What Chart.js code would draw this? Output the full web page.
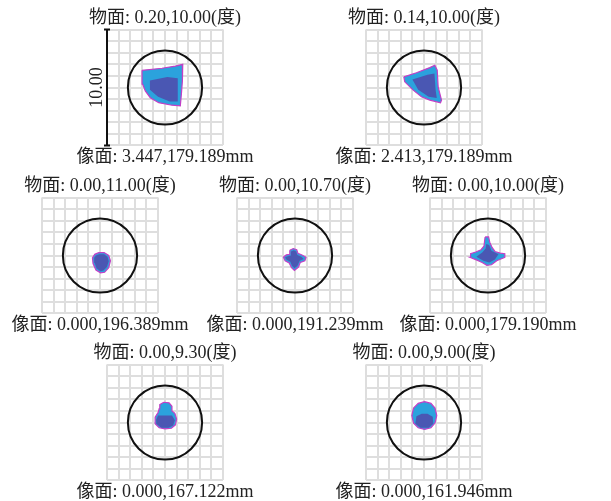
<!DOCTYPE html>
<html>
<head>
<meta charset="utf-8">
<script src="https://cdn.jsdelivr.net/npm/chart.js"></script>
<style>
  body { margin: 0; background: #fff; width: 611px; height: 501px; position: relative; overflow: hidden; }
  .spot { position: absolute; width: 210px; height: 165px; }
</style>
</head>
<body>
<div class="spot" style="left:60px;top:5px"><canvas id="c0"></canvas></div>
<div class="spot" style="left:319px;top:5px"><canvas id="c1"></canvas></div>
<div class="spot" style="left:-5px;top:173px"><canvas id="c2"></canvas></div>
<div class="spot" style="left:190px;top:173px"><canvas id="c3"></canvas></div>
<div class="spot" style="left:383px;top:173px"><canvas id="c4"></canvas></div>
<div class="spot" style="left:60px;top:340px"><canvas id="c5"></canvas></div>
<div class="spot" style="left:319px;top:340px"><canvas id="c6"></canvas></div>
<script>
// field angles (object) and image positions, one per spot diagram
const objectFields = ['0.20,10.00', '0.14,10.00', '0.00,11.00', '0.00,10.70', '0.00,10.00', '0.00,9.30', '0.00,9.00'];
const imagePositions = ['3.447,179.189', '2.413,179.189', '0.000,196.389', '0.000,191.239', '0.000,179.190', '0.000,167.122', '0.000,161.946'];
const gridMin = -5;
const gridMax = 5;
const airyRadius = 3.2;
const scaleBarLength = 10.00;

// spot outlines [x, y], outer ray envelope and dense core
const spot1Outer = [[-1.98,1.48],[-0.26,1.66],[0.89,1.85],[1.53,2.0],[1.53,1.42],[1.47,0.56],[1.41,-0.59],[1.32,-1.59],[0.6,-1.53],[-0.54,-1.31],[-1.27,-0.88],[-1.7,-0.3],[-1.92,0.28]];
const spot1Core = [[-1.3,0.6],[0.2,0.9],[1.1,0.8],[1.1,-1.2],[0.4,-1.2],[-0.6,-0.8],[-1.3,-0.2]];
const spot2Outer = [[-1.74,0.92],[-0.65,1.27],[0.5,1.72],[0.93,1.92],[1.14,1.49],[1.22,0.06],[1.51,-1.09],[1.42,-1.32],[0.5,-1.09],[-0.22,-0.8],[-0.93,-0.23],[-1.66,0.49]];
const spot2Core = [[-1.0,0.7],[0.3,1.1],[0.9,1.2],[1.0,-0.2],[1.1,-0.9],[0.4,-0.8],[-0.5,-0.2]];
const spot3Outer = [[-0.1,0.25],[0.35,0.25],[0.75,0.0],[0.9,-0.45],[0.75,-1.05],[0.4,-1.45],[0.05,-1.5],[-0.35,-1.25],[-0.6,-0.7],[-0.65,-0.2],[-0.45,0.1]];
const spot3Core = [[-0.05,0.1],[0.35,0.1],[0.65,-0.1],[0.75,-0.5],[0.6,-1.0],[0.3,-1.3],[0.05,-1.35],[-0.3,-1.1],[-0.45,-0.65],[-0.5,-0.2],[-0.35,0.0]];
const spot4Outer = [[-0.45,0.45],[-0.15,0.6],[0.15,0.5],[0.25,0.2],[0.6,0.05],[0.95,-0.15],[0.85,-0.45],[0.45,-0.6],[0.3,-1.0],[-0.05,-1.3],[-0.3,-1.05],[-0.5,-0.65],[-0.85,-0.45],[-1.0,-0.15],[-0.75,0.05],[-0.45,0.1]];
const spot4Core = [[-0.35,0.35],[-0.1,0.45],[0.1,0.35],[0.2,0.05],[0.55,-0.1],[0.75,-0.3],[0.4,-0.45],[0.2,-0.9],[-0.05,-1.1],[-0.25,-0.9],[-0.4,-0.55],[-0.75,-0.35],[-0.85,-0.15],[-0.55,-0.05],[-0.35,0.0]];
const spot5Outer = [[-0.25,1.6],[0.05,1.6],[0.15,1.15],[0.35,0.7],[0.6,0.35],[1.05,0.2],[1.45,0.15],[1.45,-0.15],[1.0,-0.35],[0.75,-0.45],[0.3,-0.8],[-0.1,-0.85],[-0.5,-0.6],[-0.95,-0.4],[-1.55,-0.15],[-1.5,0.15],[-1.05,0.3],[-0.6,0.5],[-0.35,0.8],[-0.3,1.2]];
const spot5Core = [[-0.15,1.0],[0.1,0.9],[0.3,0.4],[0.9,0.1],[0.6,-0.35],[0.1,-0.6],[-0.4,-0.45],[-1.0,-0.1],[-0.5,0.25],[-0.2,0.6]];
const spot6Outer = [[-0.1,1.75],[0.35,1.7],[0.6,1.4],[0.6,1.0],[0.85,0.8],[1.0,0.3],[0.9,-0.2],[0.55,-0.5],[0.0,-0.55],[-0.5,-0.45],[-0.85,-0.1],[-0.85,0.45],[-0.6,0.85],[-0.5,1.2],[-0.45,1.55]];
const spot6Core = [[-0.6,0.6],[0.6,0.6],[0.85,0.2],[0.7,-0.25],[0.3,-0.45],[-0.3,-0.45],[-0.7,-0.15],[-0.75,0.25]];
const spot7Outer = [[0.05,1.8],[0.6,1.65],[0.95,1.25],[1.1,0.6],[0.95,-0.05],[0.6,-0.45],[0.05,-0.6],[-0.5,-0.45],[-0.9,-0.05],[-1.05,0.6],[-0.9,1.25],[-0.5,1.65]];
const spot7Core = [[-0.65,0.55],[-0.2,0.75],[0.3,0.75],[0.75,0.5],[0.8,-0.1],[0.4,-0.45],[-0.3,-0.45],[-0.75,-0.1]];

const spotsOuter = [spot1Outer, spot2Outer, spot3Outer, spot4Outer, spot5Outer, spot6Outer, spot7Outer];
const spotsCore = [spot1Core, spot2Core, spot3Core, spot4Core, spot5Core, spot6Core, spot7Core];

const FONT = '"Liberation Serif", "Noto Sans CJK SC", serif';
const SIDE = 47; // room beside the square grid for the labels

function toPoints(arr) {
  const pts = arr.map(p => ({ x: p[0], y: p[1] }));
  pts.push({ x: arr[0][0], y: arr[0][1] }); // close polygon
  return pts;
}

// airy circle + scale bar, placed through the chart scales
const overlay = {
  id: 'overlay',
  afterDatasetsDraw(chart, args, opts) {
    const { ctx, scales: { x, y } } = chart;
    const cx = x.getPixelForValue(0);
    const cy = y.getPixelForValue(0);
    const r = x.getPixelForValue(opts.radius) - cx;
    ctx.save();
    ctx.strokeStyle = '#111';
    ctx.lineWidth = 2;
    ctx.beginPath();
    ctx.arc(cx, cy, r, 0, Math.PI * 2);
    ctx.stroke();

    if (opts.scaleBar) {
      const bx = x.getPixelForValue(gridMin);
      const y0 = y.getPixelForValue(-opts.scaleBar / 2);
      const y1 = y.getPixelForValue(opts.scaleBar / 2);
      ctx.beginPath();
      ctx.moveTo(bx, y0); ctx.lineTo(bx, y1);
      ctx.moveTo(bx - 3, y0); ctx.lineTo(bx + 3, y0);
      ctx.moveTo(bx - 3, y1); ctx.lineTo(bx + 3, y1);
      ctx.stroke();
      ctx.translate(bx - 10, (y0 + y1) / 2);
      ctx.rotate(-Math.PI / 2);
      ctx.fillStyle = '#222';
      ctx.font = '18px ' + FONT;
      ctx.textAlign = 'center';
      ctx.textBaseline = 'middle';
      ctx.fillText(opts.scaleBar.toFixed(2), 0, 0);
    }
    ctx.restore();
  }
};

const sideAxis = (position) => ({
  position,
  min: gridMin, max: gridMax,
  ticks: { display: false, stepSize: 1 },
  grid: { color: '#dedede', lineWidth: 2, drawTicks: false, display: position === 'left' },
  border: { display: false },
  afterFit(scale) { scale.width = SIDE; }
});

objectFields.forEach((field, i) => {
  const ctx = document.getElementById('c' + i).getContext('2d');
  new Chart(ctx, {
    type: 'scatter',
    data: {
      datasets: [
        {
          type: 'line',
          data: toPoints(spotsCore[i]),
          order: 0,
          borderColor: 'rgba(0,0,0,0)',
          borderWidth: 0,
          backgroundColor: '#4a57b3',
          fill: 'shape',
          pointRadius: 0,
          tension: 0
        },
        {
          type: 'line',
          data: toPoints(spotsOuter[i]),
          order: 1,
          borderColor: '#c33fc6',
          borderWidth: 1.2,
          backgroundColor: '#2ba2dd',
          fill: 'shape',
          pointRadius: 0,
          tension: 0
        }
      ]
    },
    options: {
      responsive: true,
      maintainAspectRatio: false,
      animation: false,
      layout: { padding: 0 },
      scales: {
        x: {
          min: gridMin, max: gridMax,
          ticks: { display: false, stepSize: 1 },
          grid: { color: '#dedede', lineWidth: 2, drawTicks: false },
          border: { display: false }
        },
        y: sideAxis('left'),
        y2: sideAxis('right')
      },
      plugins: {
        legend: { display: false },
        tooltip: { enabled: false },
        title: {
          display: true,
          text: '物面: ' + field + '(度)',
          color: '#222',
          font: { family: FONT, size: 18, weight: 'normal' },
          padding: { top: 2, bottom: 1 }
        },
        subtitle: {
          display: true,
          position: 'bottom',
          text: '像面: ' + imagePositions[i] + 'mm',
          color: '#222',
          font: { family: FONT, size: 18, weight: 'normal' },
          padding: { top: 1, bottom: 2 }
        },
        overlay: { radius: airyRadius, scaleBar: i === 0 ? scaleBarLength : 0 }
      }
    },
    plugins: [overlay]
  });
});
</script>
</body>
</html>
